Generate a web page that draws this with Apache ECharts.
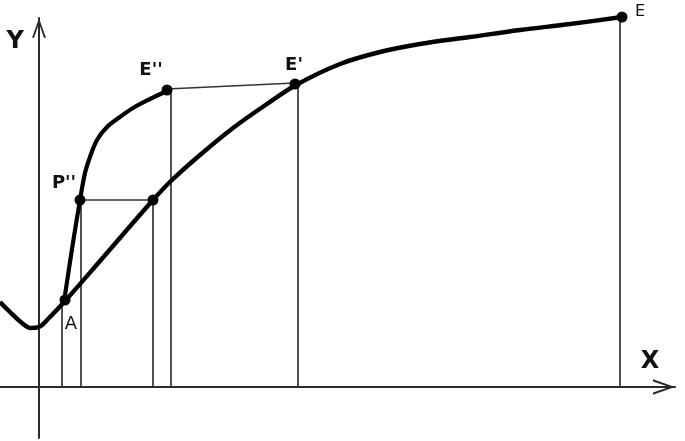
<!DOCTYPE html>
<html>
<head>
<meta charset="utf-8">
<script src="https://cdn.jsdelivr.net/npm/echarts@6/dist/echarts.min.js"></script>
<style>
  html, body { margin: 0; padding: 0; background: #fff; }
  #main { width: 685px; height: 441px; }
</style>
</head>
<body>
<div id="main"></div>
<script>
// main curve (thick), origin at the axes crossing
var mainX = [-39, -29, -17, -8, 0, 10, 26, 61, 114, 133, 161, 194, 228, 257, 301, 341, 381, 431, 481, 531, 583];
var mainY = [85, 75, 64, 59, 60, 69, 86, 126, 187, 207, 232, 259, 283, 302, 323, 335, 343, 350, 357, 363, 370];
// steep curve from A up to E''
var steepX = [25, 33, 41, 46, 51, 58, 68, 81, 94, 111, 128];
var steepY = [85, 138, 187, 214, 230, 247, 260, 270, 279, 288, 296];
// marked points
var pointNames = ['A', "P''", '', "E''", "E'", 'E'];
var pointX = [26, 41, 114, 128, 256, 583];
var pointY = [87, 187, 187, 297, 303, 370];
// thin guide lines: [x1, y1, x2, y2]
var guides = [
  [23, 0, 23, 83],
  [42, 0, 42, 187],
  [114, 0, 114, 187],
  [132, 0, 132, 296],
  [259, 0, 259, 303],
  [581, 0, 581, 370],
  [41, 187, 114, 187],
  [128, 298, 256, 304]
];

function pairs(xs, ys) {
  return xs.map(function (x, i) { return [x, ys[i]]; });
}

// label placement (px offsets from the dot) and fonts
var labelLayout = {
  'A':    { offset: [6, 24],  fontSize: 18, fontWeight: 'normal' },
  "P''":  { offset: [-16, -17], fontSize: 18, fontWeight: 'bold' },
  "E''":  { offset: [-16, -20], fontSize: 18, fontWeight: 'bold' },
  "E'":   { offset: [-1, -19], fontSize: 18, fontWeight: 'bold' },
  'E':    { offset: [18, -5],  fontSize: 16, fontWeight: 'normal' }
};

var pointData = pointNames.map(function (n, i) {
  var item = { value: [pointX[i], pointY[i]] };
  if (n) {
    var l = labelLayout[n];
    item.label = {
      show: true, formatter: n, position: 'inside',
      offset: l.offset, fontSize: l.fontSize, fontWeight: l.fontWeight,
      color: '#111', fontFamily: 'DejaVu Sans'
    };
  }
  return item;
});

var arrow = 'path://M0,21 L7.5,0 L15,21 L12.8,21 L7.5,5.5 L2.2,21 Z';

var chart = echarts.init(document.getElementById('main'));
chart.setOption({
  backgroundColor: '#fff',
  animation: false,
  grid: { left: 0, right: 10, top: 18, bottom: 3 },
  xAxis: {
    type: 'value', min: -39, max: 636,
    name: 'X', nameLocation: 'end', nameGap: -25,
    nameTextStyle: { fontFamily: 'DejaVu Sans', fontWeight: 'bold', fontSize: 24, color: '#111',
      align: 'center', verticalAlign: 'bottom', padding: [0, 0, 13, 0] },
    axisLine: { onZero: true, symbol: ['none', arrow], symbolSize: [16, 22], symbolOffset: [0, -11],
      lineStyle: { color: '#2a2a2a', width: 2 } },
    axisTick: { show: false }, axisLabel: { show: false }, splitLine: { show: false }
  },
  yAxis: {
    type: 'value', min: -51, max: 369,
    name: 'Y', nameLocation: 'end', nameGap: -24,
    nameTextStyle: { fontFamily: 'DejaVu Sans', fontWeight: 'bold', fontSize: 24, color: '#111',
      align: 'right', verticalAlign: 'middle', padding: [0, 15, 0, 0] },
    axisLine: { onZero: true, symbol: ['none', arrow], symbolSize: [14, 20], symbolOffset: [0, -10],
      lineStyle: { color: '#2a2a2a', width: 2 } },
    axisTick: { show: false }, axisLabel: { show: false }, splitLine: { show: false }
  },
  series: [
    {
      type: 'lines', coordinateSystem: 'cartesian2d', silent: true,
      lineStyle: { color: '#333', width: 1.7, opacity: 1 },
      data: guides.map(function (g) { return { coords: [[g[0], g[1]], [g[2], g[3]]] }; })
    },
    {
      type: 'line', data: pairs(mainX, mainY), smooth: 0.35, showSymbol: false, clip: false,
      lineStyle: { color: '#000', width: 4.4 }
    },
    {
      type: 'line', data: pairs(steepX, steepY), smooth: 0.35, showSymbol: false, clip: false,
      lineStyle: { color: '#000', width: 4.2 }
    },
    {
      type: 'scatter', data: pointData, symbolSize: 11, clip: false,
      itemStyle: { color: '#000', opacity: 1 }
    }
  ]
});
</script>
</body>
</html>
